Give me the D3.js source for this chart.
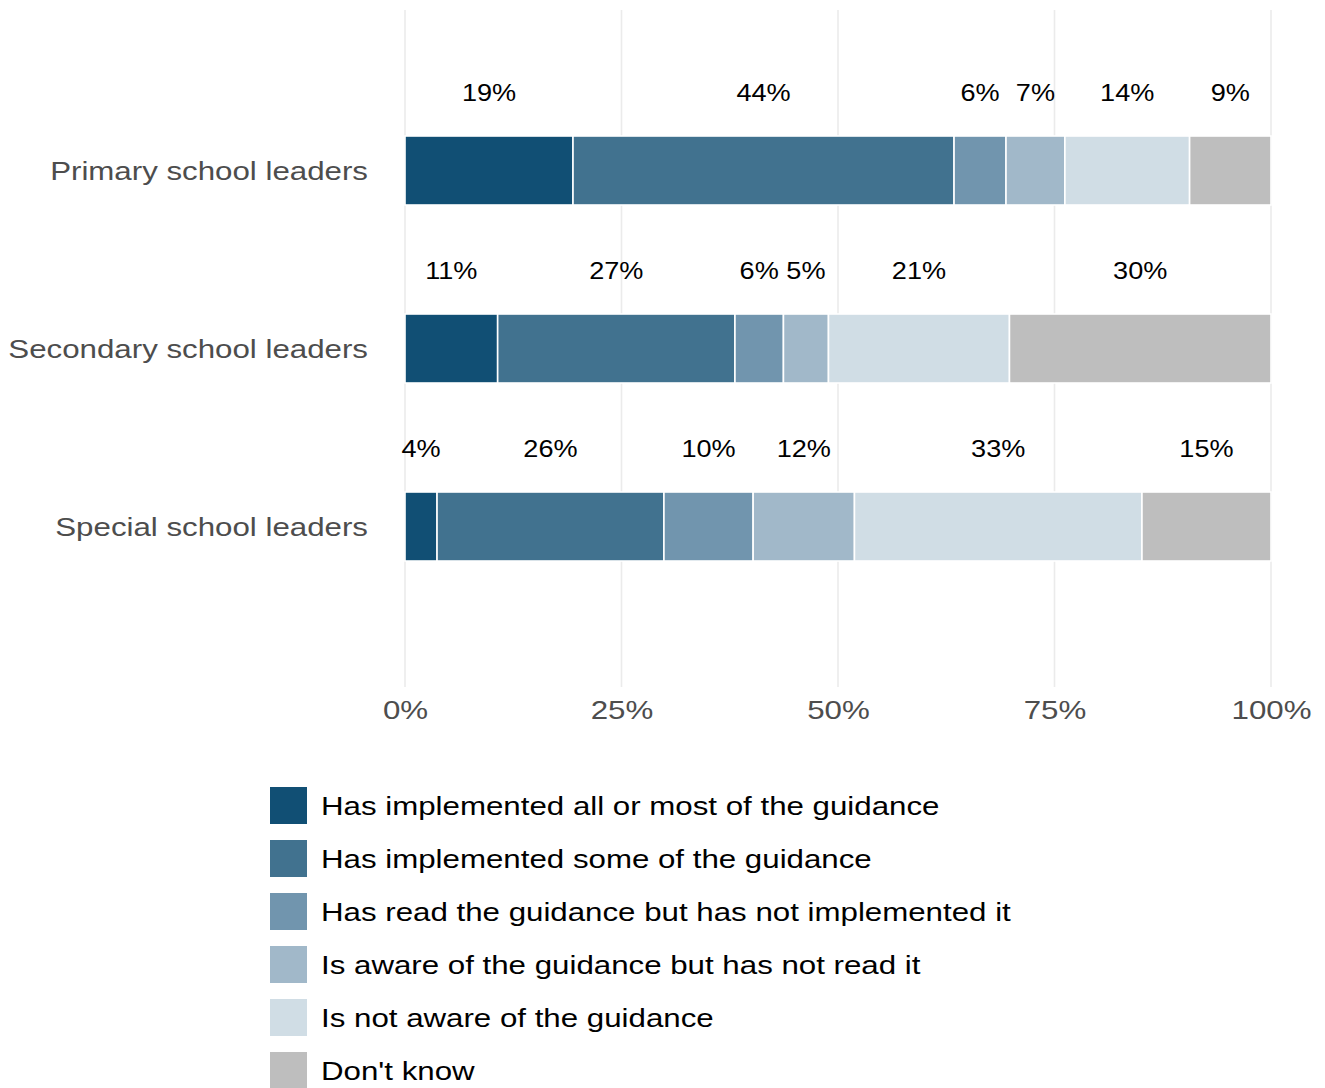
<!DOCTYPE html>
<html>
<head>
<meta charset="utf-8">
<script src="https://cdnjs.cloudflare.com/ajax/libs/d3/7.8.5/d3.min.js"></script>
<style>
  html, body { margin: 0; padding: 0; background: #ffffff; }
  svg { display: block; font-family: "Liberation Sans", Arial, sans-serif; }
</style>
</head>
<body>
<svg id="chart" width="1325" height="1088"></svg>
<script>
// Respondent groups, top to bottom
const groups = ["Primary school leaders", "Secondary school leaders", "Special school leaders"];

// Response categories, in stacking order
const responses = [
  "Has implemented all or most of the guidance",
  "Has implemented some of the guidance",
  "Has read the guidance but has not implemented it",
  "Is aware of the guidance but has not read it",
  "Is not aware of the guidance",
  "Don't know"
];

// Share of each group giving each response (%)
const primary   = [19.4, 44.0, 6.0, 6.8, 14.4, 9.4];
const secondary = [10.7, 27.4, 5.6, 5.2, 20.9, 30.2];
const special   = [3.7, 26.2, 10.3, 11.7, 33.2, 14.9];

const tickValues = [0, 25, 50, 75, 100];
const palette = ["#114f74", "#41728f", "#7195ae", "#a1b8c9", "#d0dde5", "#bebebe"];

const seriesByGroup = [primary, secondary, special];
const rows = groups.map((g, i) => {
  const r = { group: g };
  responses.forEach((k, j) => { r[k] = seriesByGroup[i][j]; });
  return r;
});

// typeface is set slightly wide
const WIDE = 1.18;
const WIDE_LABEL = 1.13;

const svg = d3.select("#chart");

const x = d3.scaleLinear().domain([0, 100]).range([405, 1271]);
const y = d3.scalePoint().domain(groups).range([170.5, 526.5]);
const color = d3.scaleOrdinal().domain(responses).range(palette);
const barH = 69;
const panelTop = 10, panelBottom = 687;

// vertical gridlines
svg.append("g")
  .selectAll("line")
  .data(tickValues)
  .join("line")
  .attr("x1", d => x(d)).attr("x2", d => x(d))
  .attr("y1", panelTop).attr("y2", panelBottom)
  .attr("stroke", "#ebebeb")
  .attr("stroke-width", 1.6);

// stacked bars
const stacked = d3.stack().keys(responses)(rows);

const layers = svg.append("g")
  .selectAll("g")
  .data(stacked)
  .join("g")
  .attr("fill", d => color(d.key));

layers.selectAll("rect")
  .data(d => d)
  .join("rect")
  .attr("x", d => x(d[0]))
  .attr("width", d => x(d[1]) - x(d[0]))
  .attr("y", d => y(d.data.group) - barH / 2)
  .attr("height", barH)
  .attr("stroke", "#ffffff")
  .attr("stroke-width", 1.6);

// value labels above each segment
svg.append("g")
  .selectAll("g")
  .data(stacked)
  .join("g")
  .selectAll("text")
  .data(d => d)
  .join("text")
  .attr("transform", d => `translate(${x((d[0] + d[1]) / 2)}, ${y(d.data.group) - 78}) scale(${WIDE_LABEL}, 1)`)
  .attr("text-anchor", "middle")
  .attr("dominant-baseline", "central")
  .attr("font-size", 24)
  .attr("fill", "#000000")
  .text(d => Math.round(d[1] - d[0]) + "%");

// x axis tick labels
const xAxis = d3.axisBottom(x)
  .tickValues(tickValues)
  .tickFormat(d => d + "%")
  .tickSize(0)
  .tickPadding(0);

const gx = svg.append("g")
  .attr("transform", `translate(0, ${panelBottom + 13})`)
  .call(xAxis);
gx.select(".domain").remove();
gx.selectAll("text")
  .attr("font-size", 26.5)
  .attr("fill", "#4d4d4d")
  .attr("font-family", "Liberation Sans, Arial, sans-serif")
  .attr("transform", `scale(${WIDE}, 1)`);

// y axis group labels
const yAxis = d3.axisLeft(y).tickSize(0).tickPadding(0);
const gy = svg.append("g")
  .attr("transform", "translate(368, 0)")
  .call(yAxis);
gy.select(".domain").remove();
gy.selectAll("text")
  .attr("font-size", 26.5)
  .attr("fill", "#4d4d4d")
  .attr("dy", "0.35em")
  .attr("font-family", "Liberation Sans, Arial, sans-serif")
  .attr("transform", `scale(${WIDE}, 1)`);

// legend
const legend = svg.append("g").attr("transform", "translate(270, 787)");
const item = legend.selectAll("g")
  .data(responses)
  .join("g")
  .attr("transform", (d, i) => `translate(0, ${i * 53})`);

item.append("rect")
  .attr("width", 37)
  .attr("height", 37)
  .attr("fill", d => color(d));

item.append("text")
  .attr("transform", `translate(51, 19) scale(${WIDE}, 1)`)
  .attr("dominant-baseline", "central")
  .attr("font-size", 26.5)
  .attr("fill", "#000000")
  .text(d => d);
</script>
</body>
</html>
